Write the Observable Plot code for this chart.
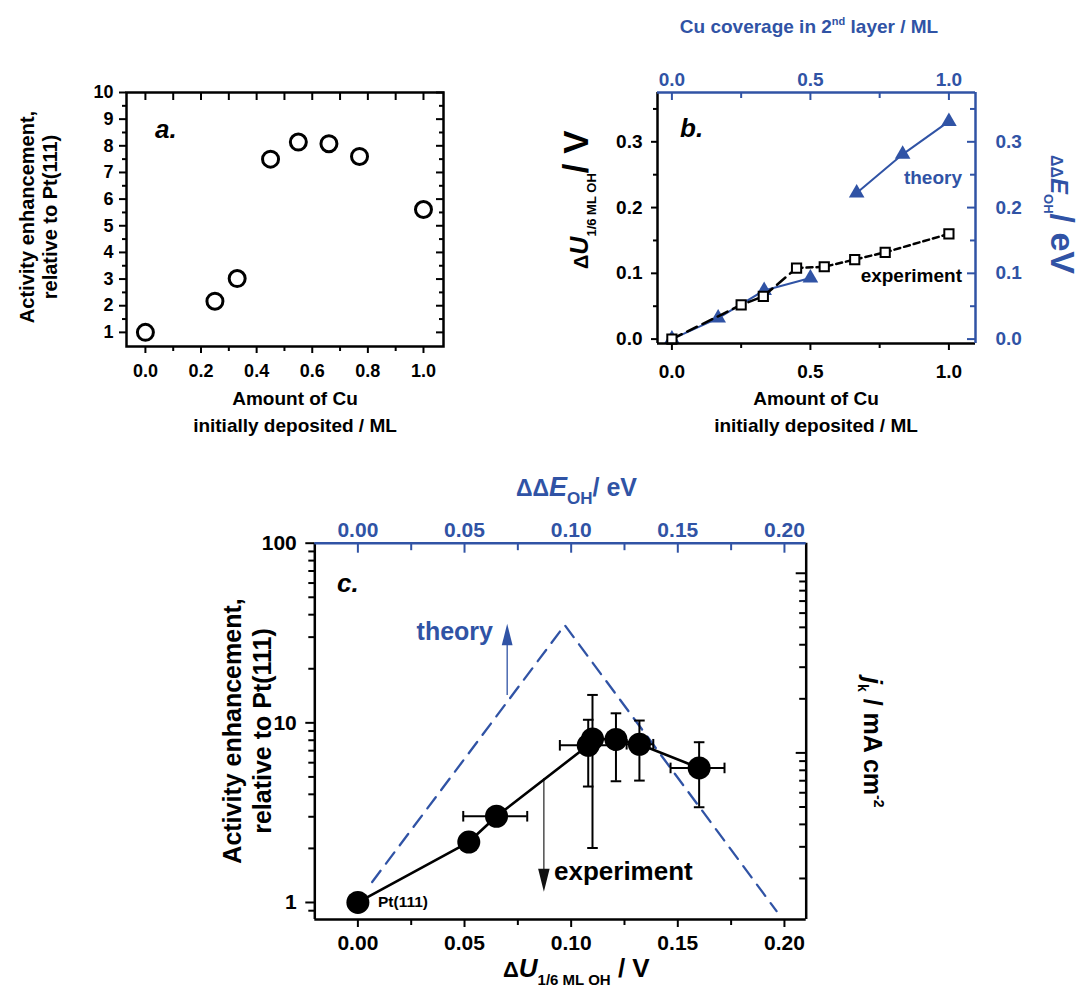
<!DOCTYPE html>
<html>
<head>
<meta charset="utf-8">
<script src="https://cdn.jsdelivr.net/npm/d3@7"></script>
<script src="https://cdn.jsdelivr.net/npm/@observablehq/plot@0.6"></script>
<style>
html, body { margin: 0; padding: 0; background: #fff; }
#fig { position: relative; width: 1085px; height: 989px; overflow: hidden; }
#fig svg { position: absolute; left: 0; top: 0; overflow: visible; background: transparent; }
</style>
</head>
<body>
<div id="fig"></div>
<script>
// ---------------- data ----------------
// panel a / shared: amount of Cu initially deposited (ML) and activity enhancement
const cuAmount    = [0, 0.25, 0.33, 0.45, 0.55, 0.66, 0.77, 1.0];
const enhancement = [1.0, 2.17, 3.02, 7.50, 8.14, 8.08, 7.60, 5.61];
// panel b: measured ΔU(1/6 ML OH) in V for the same samples
const dU = [0, 0.052, 0.065, 0.108, 0.110, 0.121, 0.132, 0.160];
// panel b: theory, Cu coverage in 2nd layer vs ΔΔE_OH (eV)
const coverage2nd  = [0, 0.167, 0.333, 0.5, 0.667, 0.833, 1.0];
const ddEOH        = [0.0, 0.032, 0.074, 0.093, 0.222, 0.281, 0.331];
const theoryBranch = ["low", "low", "low", "low", "high", "high", "high"];
// panel c: error bars
const yErrLow  = [null, null, null, 4.42, 2.01, 4.73, 4.77, 3.39];
const yErrHigh = [null, null, null, 10.4, 14.3, 11.3, 10.3, 7.8];
const xErrLow  = [null, null, 0.0494, 0.0947, null, null, 0.126, 0.1466];
const xErrHigh = [null, null, 0.0794, 0.120, null, null, 0.1385, 0.1719];
// panel c: theory volcano vertices
const volcanoX = [0.0067, 0.097, 0.1963];
const volcanoY = [1.30, 35, 0.895];
// panel c: arrows
const theoryArrow = {x: 0.070, from: 14.2, head: 31};
const expArrow    = {x: 0.0872, from: 4.88, head: 1.33};
const JK_PER_UNIT = 1.47; // j_k (mA cm^-2) per unit enhancement

// ticks
const aXTicks = [0, 0.2, 0.4, 0.6, 0.8, 1.0];
const aXMinor = [0.1, 0.3, 0.5, 0.7, 0.9];
const aYTicks = [1, 2, 3, 4, 5, 6, 7, 8, 9, 10];
const aYMinor = [1.5, 2.5, 3.5, 4.5, 5.5, 6.5, 7.5, 8.5, 9.5];
const bXTicks = [0, 0.5, 1.0];
const bXMinor = [0.25, 0.75];
const bYTicks = [0, 0.1, 0.2, 0.3];
const bYMinor = [0.05, 0.15, 0.25, 0.35];
const cXTicks = [0, 0.05, 0.10, 0.15, 0.20];
const cXMinor = [0.025, 0.075, 0.125, 0.175];
const cYTicks = [1, 10, 100];
const cYMinor = [0.9, 2, 3, 4, 5, 6, 7, 8, 9, 20, 30, 40, 50, 60, 70, 80, 90];
const jkTicks = [10, 100];
const jkMinor = [2, 3, 4, 5, 6, 7, 8, 9, 20, 30, 40, 50, 60, 70, 80, 90];

// ---------------- layout ----------------
const W = 1085, H = 989;
const BLUE = "#3053a5";
const FONT = "'Liberation Sans', Arial, Helvetica, sans-serif";
const fig = document.getElementById("fig");

function frameMargins(f) {
  return {width: W, height: H, marginLeft: f.l, marginRight: W - f.r, marginTop: f.t, marginBottom: H - f.b};
}
function finish(svg, fontSize) {
  d3.select(svg).style("font-family", FONT).style("font-weight", "bold")
    .style("font-size", fontSize + "px").style("background", "transparent");
  fig.appendChild(svg);
  return svg;
}
function label(svg, {x, y, rotate = 0, anchor = "start", fill = "black", parts}) {
  const t = d3.select(svg).append("text")
    .attr("transform", `translate(${x},${y}) rotate(${rotate})`)
    .attr("text-anchor", anchor).attr("fill", fill)
    .style("font-family", FONT).style("font-weight", "bold").style("white-space", "pre");
  let shift = 0;
  for (const p of parts) {
    const s = t.append("tspan").text(p.t).style("font-size", p.size + "px");
    if (p.italic) s.style("font-style", "italic");
    const target = p.shift || 0;
    if (target !== shift) { s.attr("dy", target - shift); shift = target; }
  }
}
const hCap = {draw(ctx, size) { const r = Math.sqrt(size / Math.PI); ctx.moveTo(-r, 0); ctx.lineTo(r, 0); }};
const vCap = {draw(ctx, size) { const r = Math.sqrt(size / Math.PI); ctx.moveTo(0, -r); ctx.lineTo(0, r); }};
const headUp = {draw(ctx, size) { const r = Math.sqrt(size / Math.PI); ctx.moveTo(0, -r); ctx.lineTo(r * 0.5, r); ctx.lineTo(-r * 0.5, r); ctx.closePath(); }};
const headDown = {draw(ctx, size) { const r = Math.sqrt(size / Math.PI); ctx.moveTo(0, r); ctx.lineTo(r * 0.5, -r); ctx.lineTo(-r * 0.5, -r); ctx.closePath(); }};

// ---------------- panel a ----------------
{
  const f = {l: 126, r: 443, t: 92, b: 346};
  const rows = cuAmount.map((x, i) => ({x, y: enhancement[i]}));
  const fmt1 = d => d.toFixed(1);
  const svg = Plot.plot({
    ...frameMargins(f),
    x: {domain: [-0.068, 1.072], axis: null},
    y: {domain: [0.47, 10], axis: null},
    marks: [
      Plot.axisX(aXTicks, {anchor: "bottom", tickSize: 7, tickPadding: 11, strokeWidth: 2, tickFormat: fmt1, label: null}),
      Plot.axisX(aXMinor, {anchor: "bottom", tickSize: 5, strokeWidth: 2, tickFormat: () => "", label: null}),
      Plot.axisX([...aXTicks, ...aXMinor], {anchor: "top", tickSize: -7, strokeWidth: 2, tickFormat: () => "", label: null}),
      Plot.axisY(aYTicks, {anchor: "left", tickSize: 7, tickPadding: 6, strokeWidth: 2, tickFormat: d => String(d), label: null}),
      Plot.axisY(aYMinor, {anchor: "left", tickSize: 4, strokeWidth: 2, tickFormat: () => "", label: null}),
      Plot.axisY(aYTicks, {anchor: "right", tickSize: -8, strokeWidth: 2, tickFormat: () => "", label: null}),
      Plot.axisY(aYMinor, {anchor: "right", tickSize: -5, strokeWidth: 2, tickFormat: () => "", label: null}),
      Plot.dot(rows, {x: "x", y: "y", r: 8, stroke: "black", strokeWidth: 3, fill: "none"}),
      Plot.frame({stroke: "black", strokeWidth: 2.5})
    ]
  });
  finish(svg, 18);
  label(svg, {x: 155, y: 138, parts: [{t: "a.", size: 26, italic: true}]});
  label(svg, {x: 34, y: 217, rotate: -90, anchor: "middle", parts: [{t: "Activity enhancement,", size: 20}]});
  label(svg, {x: 57, y: 217, rotate: -90, anchor: "middle", parts: [{t: "relative to Pt(111)", size: 20}]});
  label(svg, {x: 295, y: 405, anchor: "middle", parts: [{t: "Amount of Cu", size: 19}]});
  label(svg, {x: 295, y: 432, anchor: "middle", parts: [{t: "initially deposited / ML", size: 19}]});
}

// ---------------- panel b ----------------
{
  const f = {l: 657, r: 975, t: 92, b: 343};
  const xd = [-0.052, 1.096], yd = [-0.0067, 0.375];
  const exp = cuAmount.map((x, i) => ({x, y: dU[i]}));
  const theory = coverage2nd.map((x, i) => ({x, y: ddEOH[i], g: theoryBranch[i]}));
  const fmt1 = d => d.toFixed(1);
  const svg = Plot.plot({
    ...frameMargins(f),
    x: {domain: xd, axis: null},
    y: {domain: yd, axis: null},
    marks: [
      Plot.axisX(bXTicks, {anchor: "bottom", tickSize: 7, tickPadding: 13.5, strokeWidth: 2, tickFormat: fmt1, label: null}),
      Plot.axisX(bXMinor, {anchor: "bottom", tickSize: 5, strokeWidth: 2, tickFormat: () => "", label: null}),
      Plot.axisX(bXTicks, {anchor: "top", tickSize: -7, tickPadding: 14, strokeWidth: 2, color: BLUE, tickFormat: fmt1, label: null}),
      Plot.axisX(bXMinor, {anchor: "top", tickSize: -5, strokeWidth: 2, color: BLUE, tickFormat: () => "", label: null}),
      Plot.axisY(bYTicks, {anchor: "left", tickSize: 6, tickPadding: 9, strokeWidth: 2, tickFormat: fmt1, label: null}),
      Plot.axisY(bYMinor, {anchor: "left", tickSize: 4, strokeWidth: 2, tickFormat: () => "", label: null}),
      Plot.axisY(bYTicks, {anchor: "right", tickSize: -9, tickPadding: 29, strokeWidth: 2, color: BLUE, tickFormat: fmt1, label: null}),
      Plot.axisY(bYMinor, {anchor: "right", tickSize: -6, strokeWidth: 2, color: BLUE, tickFormat: () => "", label: null}),
      Plot.line(theory, {x: "x", y: "y", z: "g", stroke: BLUE, strokeWidth: 2}),
      Plot.dot(theory, {x: "x", y: "y", symbol: "triangle", r: 5.8, fill: BLUE, stroke: "none"}),
      Plot.line(exp.slice(0, 4), {x: "x", y: "y", stroke: "black", strokeWidth: 2.5, strokeDasharray: "11,6"}),
      Plot.line(exp.slice(3), {x: "x", y: "y", stroke: "black", strokeWidth: 2.5, strokeDasharray: "6,4"}),
      Plot.dot(exp, {x: "x", y: "y", symbol: "square", r: 5.2, fill: "white", stroke: "black", strokeWidth: 2}),
      Plot.ruleX([xd[0]], {stroke: "black", strokeWidth: 2.5}),
      Plot.ruleY([yd[0]], {stroke: "black", strokeWidth: 2.5}),
      Plot.ruleY([yd[1]], {stroke: BLUE, strokeWidth: 2.5}),
      Plot.ruleX([xd[1]], {stroke: BLUE, strokeWidth: 2.5})
    ]
  });
  finish(svg, 19);
  label(svg, {x: 680, y: 137, parts: [{t: "b.", size: 26, italic: true}]});
  label(svg, {x: 809, y: 33, anchor: "middle", fill: BLUE, parts: [
    {t: "Cu coverage in 2", size: 19}, {t: "nd", size: 11, shift: -8}, {t: " layer / ML", size: 19, shift: 0}]});
  label(svg, {x: 816, y: 405, anchor: "middle", parts: [{t: "Amount of Cu", size: 19}]});
  label(svg, {x: 816, y: 432, anchor: "middle", parts: [{t: "initially deposited / ML", size: 19}]});
  label(svg, {x: 588, y: 269, rotate: -90, parts: [
    {t: "Δ", size: 20}, {t: "U", size: 25, italic: true}, {t: "1/6 ML OH", size: 13, shift: 8}, {t: "/ V", size: 35, shift: 0}]});
  label(svg, {x: 1051, y: 155, rotate: 90, fill: BLUE, parts: [
    {t: "ΔΔ", size: 16}, {t: "E", size: 24, italic: true}, {t: "OH", size: 13, shift: 7}, {t: "/ eV", size: 34, shift: 0}]});
  label(svg, {x: 962, y: 184, anchor: "end", fill: BLUE, parts: [{t: "theory", size: 19}]});
  label(svg, {x: 962, y: 282, anchor: "end", parts: [{t: "experiment", size: 19}]});
}

// ---------------- panel c ----------------
{
  const f = {l: 314.3, r: 805.7, t: 542.7, b: 919};
  const xd = [-0.0202, 0.2102], yd = [0.804, 100];
  const rows = dU.map((x, i) => ({x, y: enhancement[i], yl: yErrLow[i], yh: yErrHigh[i], xl: xErrLow[i], xh: xErrHigh[i]}));
  const vErr = rows.filter(d => d.yl != null);
  const hErr = rows.filter(d => d.xl != null);
  const volcano = volcanoX.map((x, i) => ({x, y: volcanoY[i]}));
  const fmt2 = d => d.toFixed(2);
  const svg = Plot.plot({
    ...frameMargins(f),
    x: {domain: xd, axis: null},
    y: {type: "log", domain: yd, axis: null},
    marks: [
      Plot.axisX(cXTicks, {anchor: "bottom", tickSize: 8, tickPadding: 7.6, strokeWidth: 2, tickFormat: fmt2, label: null}),
      Plot.axisX(cXMinor, {anchor: "bottom", tickSize: 6, strokeWidth: 2, tickFormat: () => "", label: null}),
      Plot.axisX(cXTicks, {anchor: "top", tickSize: -9, tickPadding: 15.7, strokeWidth: 2, color: BLUE, tickFormat: fmt2, label: null}),
      Plot.axisX(cXMinor, {anchor: "top", tickSize: -6.5, strokeWidth: 2, color: BLUE, tickFormat: () => "", label: null}),
      Plot.axisY(cYTicks, {anchor: "left", tickSize: 9, tickPadding: 9, strokeWidth: 2, tickFormat: d => String(d), label: null}),
      Plot.axisY(cYMinor, {anchor: "left", tickSize: 6, strokeWidth: 2, tickFormat: () => "", label: null}),
      Plot.axisY(jkTicks.map(v => v / JK_PER_UNIT), {anchor: "right", tickSize: -11, tickPadding: 22.3, strokeWidth: 2,
        tickFormat: d => String(Math.round(d * JK_PER_UNIT)), label: null}),
      Plot.axisY(jkMinor.map(v => v / JK_PER_UNIT), {anchor: "right", tickSize: -7.5, strokeWidth: 2, tickFormat: () => "", label: null}),
      Plot.line(volcano, {x: "x", y: "y", stroke: BLUE, strokeWidth: 2.3, strokeDasharray: "14,9"}),
      Plot.ruleX([theoryArrow], {x: "x", y1: "from", y2: "head", stroke: BLUE, strokeWidth: 1.3}),
      Plot.dot([theoryArrow], {x: "x", y: "head", symbol: headUp, r: 10.8, fill: BLUE, stroke: "none"}),
      Plot.ruleX([expArrow], {x: "x", y1: "from", y2: "head", stroke: "#333", strokeWidth: 1.3}),
      Plot.dot([expArrow], {x: "x", y: "head", symbol: headDown, r: 11.5, fill: "#111", stroke: "none"}),
      Plot.ruleX(vErr, {x: "x", y1: "yl", y2: "yh", stroke: "black", strokeWidth: 2}),
      Plot.dot(vErr, {x: "x", y: "yl", symbol: hCap, r: 5.3, stroke: "black", strokeWidth: 2, fill: "none"}),
      Plot.dot(vErr, {x: "x", y: "yh", symbol: hCap, r: 5.3, stroke: "black", strokeWidth: 2, fill: "none"}),
      Plot.ruleY(hErr, {y: "y", x1: "xl", x2: "xh", stroke: "black", strokeWidth: 2}),
      Plot.dot(hErr, {x: "xl", y: "y", symbol: vCap, r: 5.3, stroke: "black", strokeWidth: 2, fill: "none"}),
      Plot.dot(hErr, {x: "xh", y: "y", symbol: vCap, r: 5.3, stroke: "black", strokeWidth: 2, fill: "none"}),
      Plot.line(rows, {x: "x", y: "y", stroke: "black", strokeWidth: 2.6}),
      Plot.dot(rows, {x: "x", y: "y", r: 11.5, fill: "black", stroke: "none"}),
      Plot.ruleX([xd[0]], {stroke: "black", strokeWidth: 2.5}),
      Plot.ruleX([xd[1]], {stroke: "black", strokeWidth: 2.5}),
      Plot.ruleY([yd[0]], {stroke: "black", strokeWidth: 2.5}),
      Plot.ruleY([yd[1]], {stroke: BLUE, strokeWidth: 2.5})
    ]
  });
  finish(svg, 21);
  label(svg, {x: 337, y: 592, parts: [{t: "c.", size: 26, italic: true}]});
  label(svg, {x: 516, y: 496, fill: BLUE, parts: [
    {t: "ΔΔ", size: 23}, {t: "E", size: 27, italic: true}, {t: "OH", size: 17, shift: 8}, {t: "/ eV", size: 25, shift: 0}]});
  label(svg, {x: 503, y: 977, parts: [
    {t: "Δ", size: 22}, {t: "U", size: 26, italic: true}, {t: "1/6 ML OH", size: 15, shift: 8}, {t: " / V", size: 26, shift: 0}]});
  label(svg, {x: 241, y: 731, rotate: -90, anchor: "middle", parts: [{t: "Activity enhancement,", size: 25}]});
  label(svg, {x: 271, y: 731, rotate: -90, anchor: "middle", parts: [{t: "relative to Pt(111)", size: 25}]});
  label(svg, {x: 864, y: 677, rotate: 90, parts: [
    {t: "j", size: 25, italic: true}, {t: "k", size: 14, shift: 6}, {t: " / mA cm", size: 25, shift: 0}, {t: "-2", size: 14, shift: -10}]});
  label(svg, {x: 493, y: 640, anchor: "end", fill: BLUE, parts: [{t: "theory", size: 25}]});
  label(svg, {x: 554, y: 880, parts: [{t: "experiment", size: 26}]});
  label(svg, {x: 378, y: 907, parts: [{t: "Pt(111)", size: 15.5}]});
}
</script>
</body>
</html>
